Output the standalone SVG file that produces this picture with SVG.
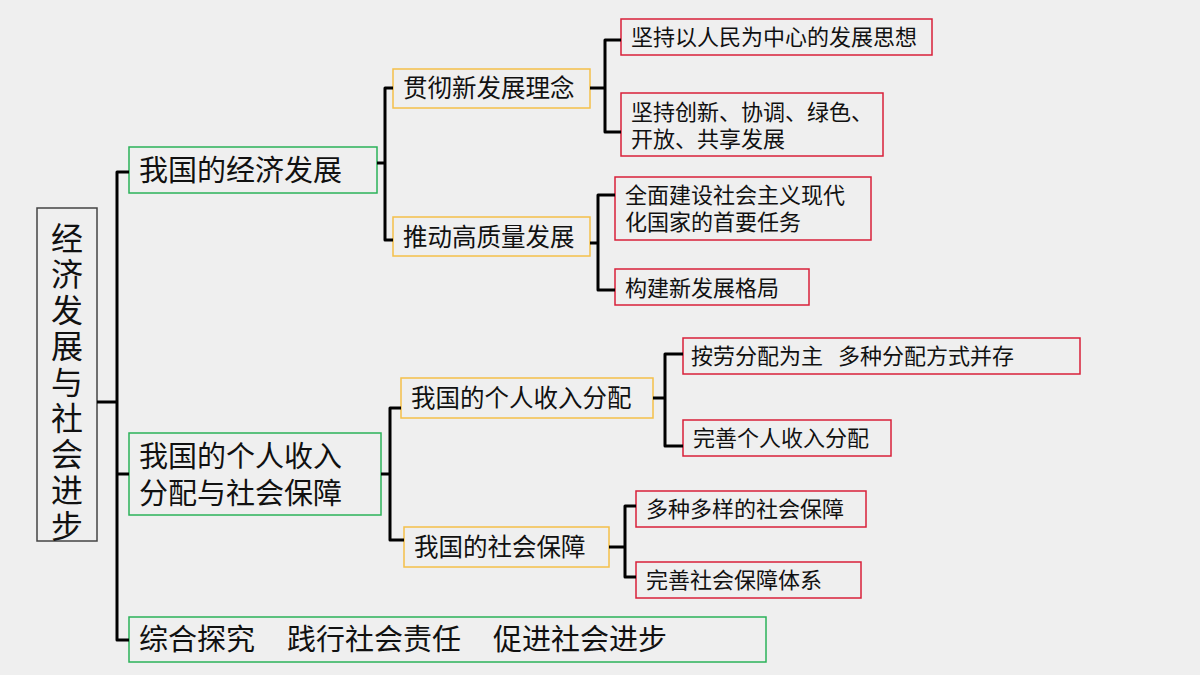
<svg xmlns="http://www.w3.org/2000/svg" width="1200" height="675" viewBox="0 0 1200 675">
<style>
text{font-family:"Noto Sans CJK SC","Liberation Sans",sans-serif;fill:#111}
.g{fill:none;stroke:#2bb35a;stroke-width:1.5}
.o{fill:none;stroke:#f5c04a;stroke-width:1.5}
.r{fill:none;stroke:#d9213a;stroke-width:1.5}
.c path{fill:none;stroke:#000;stroke-width:3;stroke-linejoin:round}
.t1{font-size:29px}.t2{font-size:24.5px}.t3{font-size:22px}
</style>
<rect width="1200" height="675" fill="#efefef"/>
<g id="root"><rect x="37" y="208" width="60" height="333" fill="none" stroke="#444" stroke-width="1.5"/>
<text font-size="32" text-anchor="middle"><tspan x="67" y="250">经</tspan><tspan x="67" y="286">济</tspan><tspan x="67" y="322">发</tspan><tspan x="67" y="358">展</tspan><tspan x="67" y="394">与</tspan><tspan x="67" y="430">社</tspan><tspan x="67" y="466">会</tspan><tspan x="67" y="502">进</tspan><tspan x="67" y="538">步</tspan></text></g>
<g id="n1"><rect class="g" x="129" y="147" width="248" height="46"/><text class="t1" x="139" y="181">我国的经济发展</text></g>
<g id="n2"><rect class="g" x="129" y="433" width="252" height="82"/><text class="t1" x="139" y="467">我国的个人收入</text><text class="t1" x="139" y="504">分配与社会保障</text></g>
<g id="n3"><rect class="g" x="129" y="617" width="637" height="45"/><text class="t1" y="650"><tspan x="139">综合探究</tspan><tspan x="287">践行社会责任</tspan><tspan x="493">促进社会进步</tspan></text></g>
<g id="n11"><rect class="o" x="393" y="69" width="197" height="39"/><text class="t2" x="403" y="97">贯彻新发展理念</text></g>
<g id="n12"><rect class="o" x="393" y="217" width="197" height="39"/><text class="t2" x="403" y="246">推动高质量发展</text></g>
<g id="n21"><rect class="o" x="401" y="378" width="252" height="40"/><text class="t2" x="411" y="407">我国的个人收入分配</text></g>
<g id="n22"><rect class="o" x="404" y="527" width="205" height="40"/><text class="t2" x="414" y="556">我国的社会保障</text></g>
<g id="l1"><rect class="r" x="621" y="19" width="311" height="36"/><text class="t3" x="631" y="45">坚持以人民为中心的发展思想</text></g>
<g id="l2"><rect class="r" x="621" y="93" width="262" height="63"/><text class="t3" x="631" y="120">坚持创新、协调、绿色、</text><text class="t3" x="631" y="147">开放、共享发展</text></g>
<g id="l3"><rect class="r" x="615" y="177" width="256" height="63"/><text class="t3" x="625" y="203">全面建设社会主义现代</text><text class="t3" x="625" y="230">化国家的首要任务</text></g>
<g id="l4"><rect class="r" x="615" y="269" width="194" height="36"/><text class="t3" x="625" y="296">构建新发展格局</text></g>
<g id="l5"><rect class="r" x="683" y="338" width="397" height="36"/><text class="t3" y="364"><tspan x="691">按劳分配为主</tspan><tspan x="838">多种分配方式并存</tspan></text></g>
<g id="l6"><rect class="r" x="683" y="420" width="208" height="36"/><text class="t3" x="693" y="446">完善个人收入分配</text></g>
<g id="l7"><rect class="r" x="636" y="491" width="230" height="36"/><text class="t3" x="646" y="517">多种多样的社会保障</text></g>
<g id="l8"><rect class="r" x="636" y="562" width="225" height="36"/><text class="t3" x="646" y="588">完善社会保障体系</text></g>
<g class="c" id="connectors">
<path d="M97 402H117M129 172H117V640H129M117 474H129"/>
<path d="M377 163H385M393 88H385V240H393"/>
<path d="M590 88H605M621 40H605V132H621"/>
<path d="M590 243H598M615 195H598V290H615"/>
<path d="M381 474H390M401 408H390V540H404"/>
<path d="M653 398H665M683 354H665V446H683"/>
<path d="M609 547H625M636 506H625V577H636"/>
</g>
</svg>
